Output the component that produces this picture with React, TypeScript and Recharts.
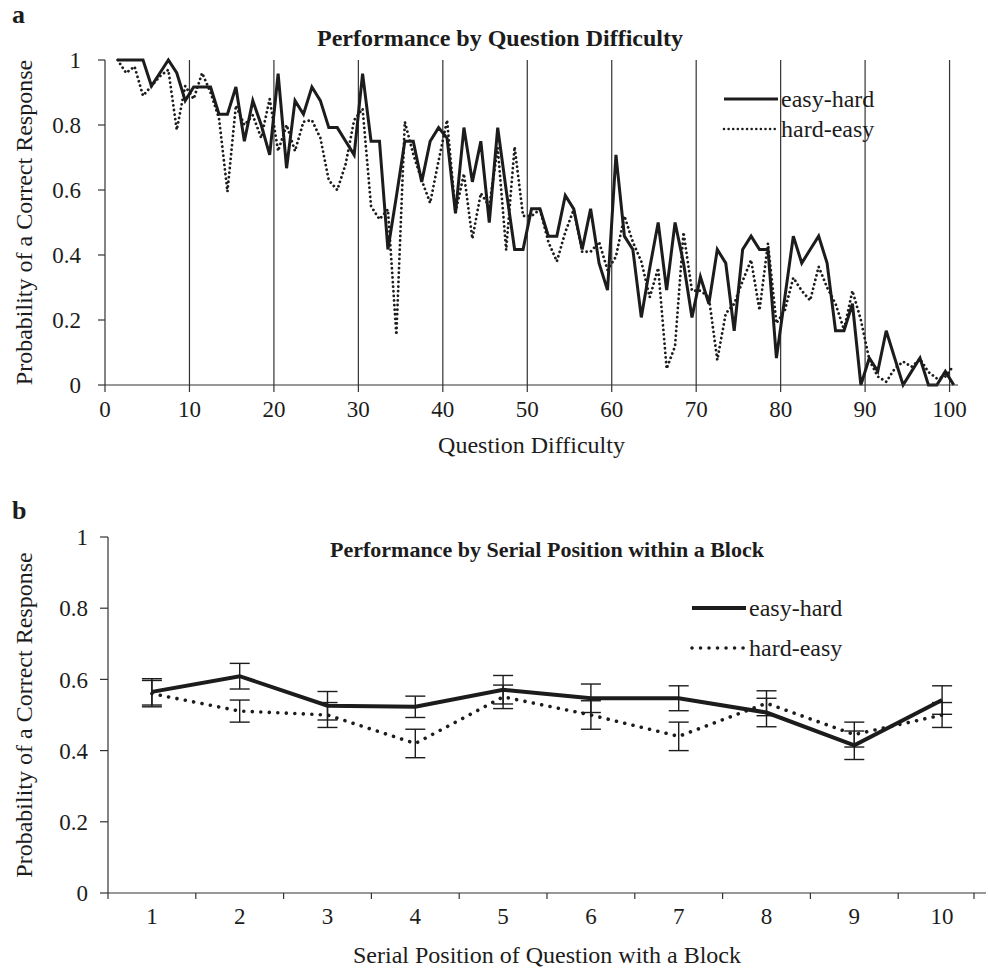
import React from 'react'
import { LineChart, Line, XAxis, YAxis, ReferenceLine, ErrorBar, Legend } from 'recharts'

const FONT = '"Liberation Serif", "Times New Roman", serif'
const INK = '#1c1c1c'
const AXIS = '#333'

// panel a: proportion correct for each question, questions ordered by difficulty (1..100)
const easyHardByQuestion = [
  1.0, 1.0, 1.0, 1.0, 0.92, 0.96, 1.0, 0.96, 0.875, 0.917,
  0.917, 0.917, 0.833, 0.833, 0.917, 0.75, 0.875, 0.8, 0.708, 0.958,
  0.667, 0.875, 0.833, 0.917, 0.875, 0.792, 0.792, 0.75, 0.708, 0.958,
  0.75, 0.75, 0.417, 0.58, 0.75, 0.75, 0.625, 0.75, 0.792, 0.76,
  0.528, 0.792, 0.625, 0.75, 0.5, 0.792, 0.6, 0.417, 0.417, 0.542,
  0.542, 0.458, 0.458, 0.583, 0.542, 0.417, 0.542, 0.375, 0.292, 0.708,
  0.458, 0.417, 0.208, 0.36, 0.5, 0.292, 0.5, 0.375, 0.208, 0.333,
  0.25, 0.417, 0.375, 0.167, 0.417, 0.458, 0.417, 0.417, 0.083, 0.27,
  0.458, 0.375, 0.417, 0.458, 0.375, 0.167, 0.167, 0.25, 0, 0.083,
  0.042, 0.167, 0.083, 0, 0.042, 0.083, 0, 0, 0.042, 0,
]
const hardEasyByQuestion = [
  1.0, 0.96, 0.98, 0.89, 0.92, 0.95, 0.97, 0.785, 0.92, 0.88,
  0.96, 0.9, 0.82, 0.595, 0.86, 0.8, 0.83, 0.76, 0.88, 0.72,
  0.8, 0.72, 0.81, 0.815, 0.76, 0.63, 0.6, 0.68, 0.815, 0.85,
  0.55, 0.51, 0.54, 0.154, 0.81, 0.71, 0.63, 0.56, 0.69, 0.815,
  0.53, 0.65, 0.45, 0.59, 0.55, 0.73, 0.415, 0.733, 0.52, 0.52,
  0.54, 0.44, 0.38, 0.47, 0.54, 0.41, 0.41, 0.44, 0.354, 0.395,
  0.52, 0.44, 0.38, 0.27, 0.36, 0.05, 0.12, 0.47, 0.29, 0.29,
  0.27, 0.077, 0.22, 0.25, 0.32, 0.385, 0.23, 0.436, 0.19, 0.23,
  0.33, 0.29, 0.26, 0.364, 0.3, 0.25, 0.17, 0.29, 0.2, 0.077,
  0.026, 0.01, 0.05, 0.072, 0.056, 0.08, 0.04, 0.02, 0.026, 0.06,
]
const difficultyTicks = [0, 10, 20, 30, 40, 50, 60, 70, 80, 90, 100]
const probTicks = [0, 0.2, 0.4, 0.6, 0.8, 1]

// panel b: mean proportion correct by position within a block, with error bars
const serialPositions = [1, 2, 3, 4, 5, 6, 7, 8, 9, 10]
const easyHardBySerial = [0.565, 0.609, 0.526, 0.523, 0.571, 0.547, 0.547, 0.507, 0.415, 0.542]
const easyHardSerialErr = [0.037, 0.036, 0.04, 0.03, 0.04, 0.04, 0.035, 0.04, 0.04, 0.04]
const hardEasyBySerial = [0.56, 0.511, 0.5, 0.42, 0.551, 0.5, 0.44, 0.533, 0.445, 0.5]
const hardEasySerialErr = [0.037, 0.031, 0.035, 0.04, 0.033, 0.04, 0.04, 0.035, 0.035, 0.035]
const serialTicks = [0.5, 1, 1.5, 2, 2.5, 3, 3.5, 4, 4.5, 5, 5.5, 6, 6.5, 7, 7.5, 8, 8.5, 9, 9.5, 10, 10.5]

// each question is drawn in the middle of its unit bin, as in the original figure
const difficultyData = easyHardByQuestion.map((v, i) => ({
  q: i + 1.5,
  easyHard: v,
  hardEasy: hardEasyByQuestion[i],
}))

const serialData = serialPositions.map((p, i) => ({
  pos: p,
  easyHard: easyHardBySerial[i],
  easyHardErr: easyHardSerialErr[i],
  hardEasy: hardEasyBySerial[i],
  hardEasyErr: hardEasySerialErr[i],
}))

const tickStyle = { fontFamily: FONT, fontSize: 23, fill: INK }
const titleTextStyle = { fontFamily: FONT, fontSize: 24, fill: INK }

function VerticalTitle(props: any) {
  const { viewBox, value } = props
  const cx = 24
  const cy = viewBox.y + viewBox.height / 2
  return (
    <text x={cx} y={cy} transform={`rotate(-90 ${cx} ${cy})`} textAnchor="middle"
      dominantBaseline="central" style={titleTextStyle}>
      {value}
    </text>
  )
}

function bottomTitle(dy: number) {
  return (props: any) => {
    const { viewBox, value } = props
    return (
      <text x={viewBox.x + viewBox.width / 2} y={viewBox.y + dy} textAnchor="middle"
        dominantBaseline="central" style={titleTextStyle}>
        {value}
      </text>
    )
  }
}

function makeLegend(rowHeight: number, sampleWidth: number, dash: string, dashWidth: number, solidWidth: number) {
  return (props: any) => (
    <div>
      {(props.payload || []).map((entry: any) => {
        const dotted = entry.dataKey === 'hardEasy'
        return (
          <div key={entry.value} style={{ display: 'flex', alignItems: 'center', height: rowHeight }}>
            <svg width={sampleWidth} height={10}>
              <line x1={2} x2={sampleWidth - 2} y1={5} y2={5} stroke={INK}
                strokeWidth={dotted ? dashWidth : solidWidth}
                strokeDasharray={dotted ? dash : undefined}
                strokeLinecap={dotted ? 'round' : 'butt'} />
            </svg>
            <span style={{ fontFamily: FONT, fontSize: 24, color: INK, marginLeft: 1 }}>{entry.value}</span>
          </div>
        )
      })}
    </div>
  )
}

function SerialTick(props: any) {
  const { x, y, payload } = props
  if (Number.isInteger(payload.value)) {
    return (
      <text x={x} y={y + 23} textAnchor="middle" dominantBaseline="central" style={tickStyle}>
        {payload.value}
      </text>
    )
  }
  return <line x1={x} x2={x} y1={y} y2={y + 6} stroke={AXIS} strokeWidth={1.2} />
}

const titleStyle: React.CSSProperties = {
  position: 'absolute', fontFamily: FONT, fontWeight: 700, color: INK,
  textAlign: 'center', whiteSpace: 'nowrap',
}
const letterStyle: React.CSSProperties = {
  position: 'absolute', fontFamily: FONT, fontWeight: 700, fontSize: 26, color: INK,
}

export default function App() {
  return (
    <div style={{ position: 'absolute', left: 0, top: 0, width: 988, height: 974, background: '#fff' }}>
      <div style={{ ...letterStyle, left: 12, top: 0 }}>a</div>
      <div style={{ ...titleStyle, fontSize: 24, left: 105, width: 790, top: 25 }}>Performance by Question Difficulty</div>

      <div style={{ position: 'absolute', left: 0, top: 0 }}>
        <LineChart width={988} height={470} data={difficultyData}
          margin={{ top: 60, right: 30, bottom: 0, left: 0 }}>
          {difficultyTicks.filter(t => t > 0).map(t => (
            <ReferenceLine key={t} x={t} stroke={AXIS} strokeWidth={1.2} />
          ))}
          <XAxis dataKey="q" type="number" domain={[0, 101]} ticks={difficultyTicks}
            height={85} tickSize={7} tickMargin={9} tick={tickStyle}
            stroke={AXIS} strokeWidth={1.2}
            label={{ value: 'Question Difficulty', content: bottomTitle(60) }} />
          <YAxis type="number" domain={[0, 1]} ticks={probTicks} width={105}
            tickSize={7} tickMargin={17} tick={tickStyle} stroke={AXIS} strokeWidth={1.2}
            label={{ value: 'Probability of a Correct Response', content: VerticalTitle }} />
          <Legend layout="vertical" align="center" verticalAlign="middle"
            wrapperStyle={{ left: 722, top: 84, width: 230 }}
            content={makeLegend(30, 58, '0.01 4.6', 2.6, 3)} />
          <Line dataKey="easyHard" name="easy-hard" stroke={INK} strokeWidth={3}
            dot={false} activeDot={false} isAnimationActive={false} />
          <Line dataKey="hardEasy" name="hard-easy" stroke={INK} strokeWidth={2.8}
            strokeDasharray="0.01 4.6" strokeLinecap="round"
            dot={false} activeDot={false} isAnimationActive={false} />
        </LineChart>
      </div>

      <div style={{ ...letterStyle, left: 12, top: 496 }}>b</div>
      <div style={{ ...titleStyle, fontSize: 22, left: 108, width: 878, top: 537 }}>Performance by Serial Position within a Block</div>

      <div style={{ position: 'absolute', left: 0, top: 470 }}>
        <LineChart width={988} height={504} data={serialData}
          margin={{ top: 67, right: 2, bottom: 0, left: 0 }}>
          <XAxis dataKey="pos" type="number" domain={[0.5, 10.5]} ticks={serialTicks}
            height={81} tickSize={0} tickMargin={0} tickLine={false} tick={SerialTick}
            stroke={AXIS} strokeWidth={1.2}
            label={{ value: 'Serial Position of Question with a Block', content: bottomTitle(62) }} />
          <YAxis type="number" domain={[0, 1]} ticks={probTicks} width={108}
            tickSize={8} tickMargin={12} tick={tickStyle} stroke={AXIS} strokeWidth={1.2}
            label={{ value: 'Probability of a Correct Response', content: VerticalTitle }} />
          <Legend layout="vertical" align="center" verticalAlign="middle"
            wrapperStyle={{ left: 690, top: 118, width: 270 }}
            content={makeLegend(40, 58, '0.01 8.5', 3.6, 4)} />
          <Line dataKey="easyHard" name="easy-hard" stroke={INK} strokeWidth={4}
            dot={false} activeDot={false} isAnimationActive={false}>
            <ErrorBar dataKey="easyHardErr" width={10} stroke={INK} strokeWidth={1.4} direction="y" />
          </Line>
          <Line dataKey="hardEasy" name="hard-easy" stroke={INK} strokeWidth={3.6}
            strokeDasharray="0.01 8.5" strokeLinecap="round"
            dot={false} activeDot={false} isAnimationActive={false}>
            <ErrorBar dataKey="hardEasyErr" width={10} stroke={INK} strokeWidth={1.4} direction="y" />
          </Line>
        </LineChart>
      </div>
    </div>
  )
}
